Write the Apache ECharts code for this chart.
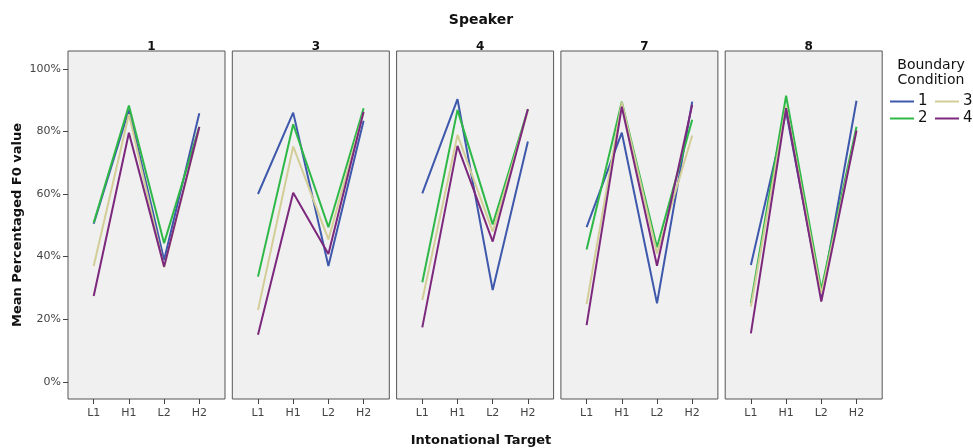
<!DOCTYPE html>
<html>
<head>
<meta charset="utf-8">
<script src="https://cdn.jsdelivr.net/npm/echarts@6/dist/echarts.min.js"></script>
<style>
  html, body { margin: 0; padding: 0; background: #fff; }
  #main { width: 973px; height: 448px; }
</style>
</head>
<body>
<div id="main"></div>
<script>
// speakers (panels), intonational targets (x), boundary conditions (series)
var speakers = ['1', '3', '4', '7', '8'];
var targets = ['L1', 'H1', 'L2', 'H2'];
var conditions = ['1', '2', '3', '4'];
var yTicks = [0, 20, 40, 60, 80, 100];

// mean percentaged F0, one row per speaker, columns L1 H1 L2 H2
var cond1 = [
    [50.5, 86.9, 38.9, 85.8],
    [60.0, 86.0, 37.0, 83.4],
    [60.2, 90.3, 29.3, 76.8],
    [49.4, 79.6, 25.1, 89.5],
    [37.3, 86.3, 27.0, 89.8]
];
var cond2 = [
    [50.8, 88.3, 44.3, 81.5],
    [33.6, 82.3, 49.4, 87.4],
    [31.8, 86.9, 50.3, 87.0],
    [42.3, 89.5, 43.0, 83.7],
    [25.1, 91.4, 29.5, 81.5]
];
var cond3 = [
    [37.0, 85.5, 36.5, 81.0],
    [22.9, 75.2, 45.5, 86.0],
    [26.1, 78.9, 48.0, 86.5],
    [24.8, 89.3, 41.0, 78.7],
    [24.0, 88.0, 28.0, 80.0]
];
var cond4 = [
    [27.4, 79.6, 36.8, 81.4],
    [15.0, 60.4, 40.8, 86.3],
    [17.4, 75.4, 44.8, 87.2],
    [18.1, 87.9, 37.1, 88.5],
    [15.5, 87.4, 25.6, 80.3]
];

var condData = [cond1, cond2, cond3, cond4];
var colors = ['#3E58AC', '#2EB848', '#D3CE97', '#7C287D'];
var font = 'DejaVu Sans';

var myChart = echarts.init(document.getElementById('main'));

var grids = [], xAxes = [], yAxes = [], series = [];
var titles = [{
    text: 'Speaker', left: 476, top: 8, textAlign: 'center',
    textStyle: { fontFamily: font, fontSize: 14, fontWeight: 'bold', color: '#111' }
}, {
    text: 'Intonational Target', left: 476, top: 429, textAlign: 'center',
    textStyle: { fontFamily: font, fontSize: 13, fontWeight: 'bold', color: '#111' }
}, {
    text: 'Boundary\nCondition', left: 926, top: 53, textAlign: 'center',
    textStyle: { fontFamily: font, fontSize: 14, fontWeight: 'normal', color: '#111', lineHeight: 15 }
}];

speakers.forEach(function (sp, i) {
    var left = 68 + i * 164.3;
    grids.push({
        left: left, top: 51, width: 157, height: 348,
        show: true, backgroundColor: '#f0f0f0', borderColor: '#555', borderWidth: 1
    });
    titles.push({
        text: sp, left: left + 78.5, top: 36, textAlign: 'center',
        textStyle: { fontFamily: font, fontSize: 12, fontWeight: 'bold', color: '#111' }
    });
    xAxes.push({
        type: 'value', gridIndex: i, min: -0.73, max: 3.73,
        splitLine: { show: false },
        axisLine: { show: false, onZero: false },
        axisTick: { show: true, customValues: [0, 1, 2, 3], length: 5, lineStyle: { color: '#444' } },
        axisLabel: {
            customValues: [0, 1, 2, 3], margin: 9,
            fontFamily: font, fontSize: 11, color: '#444',
            formatter: function (v) { return targets[Math.round(v)]; }
        }
    });
    yAxes.push({
        type: 'value', gridIndex: i, min: -5.5, max: 105.7,
        splitLine: { show: false },
        axisLine: { show: false, onZero: false },
        axisTick: { show: i === 0, customValues: yTicks, length: 5, lineStyle: { color: '#444' } },
        axisLabel: {
            show: i === 0, customValues: yTicks, margin: 7,
            fontFamily: font, fontSize: 11, color: '#444',
            formatter: function (v) { return v + '%'; }
        },
        name: i === 0 ? 'Mean Percentaged F0 value' : '',
        nameLocation: 'middle', nameGap: 44, nameRotate: 90,
        nameTextStyle: { fontFamily: font, fontSize: 13, fontWeight: 'bold', color: '#111' }
    });
    conditions.forEach(function (c, k) {
        series.push({
            name: c, type: 'line', xAxisIndex: i, yAxisIndex: i,
            data: condData[k][i].map(function (v, j) { return [j, v]; }),
            symbol: 'none', silent: true, animation: false,
            lineStyle: { color: colors[k], width: 2 },
            itemStyle: { color: colors[k] }
        });
    });
});

// legend laid out in two columns: 1 3 / 2 4
var legendPos = { '1': [890, 94], '3': [935, 94], '2': [890, 111], '4': [935, 111] };
var legends = conditions.map(function (c) {
    return {
        data: [c], left: legendPos[c][0], top: legendPos[c][1],
        icon: 'rect', itemWidth: 24, itemHeight: 2, itemGap: 4,
        textStyle: { fontFamily: font, fontSize: 15, color: '#111', padding: [0, 0, 0, -1] },
        selectedMode: false, padding: 0
    };
});

option = {
    animation: false,
    color: colors,
    title: titles,
    grid: grids,
    xAxis: xAxes,
    yAxis: yAxes,
    legend: legends,
    series: series
};
myChart.setOption(option);
</script>
</body>
</html>
